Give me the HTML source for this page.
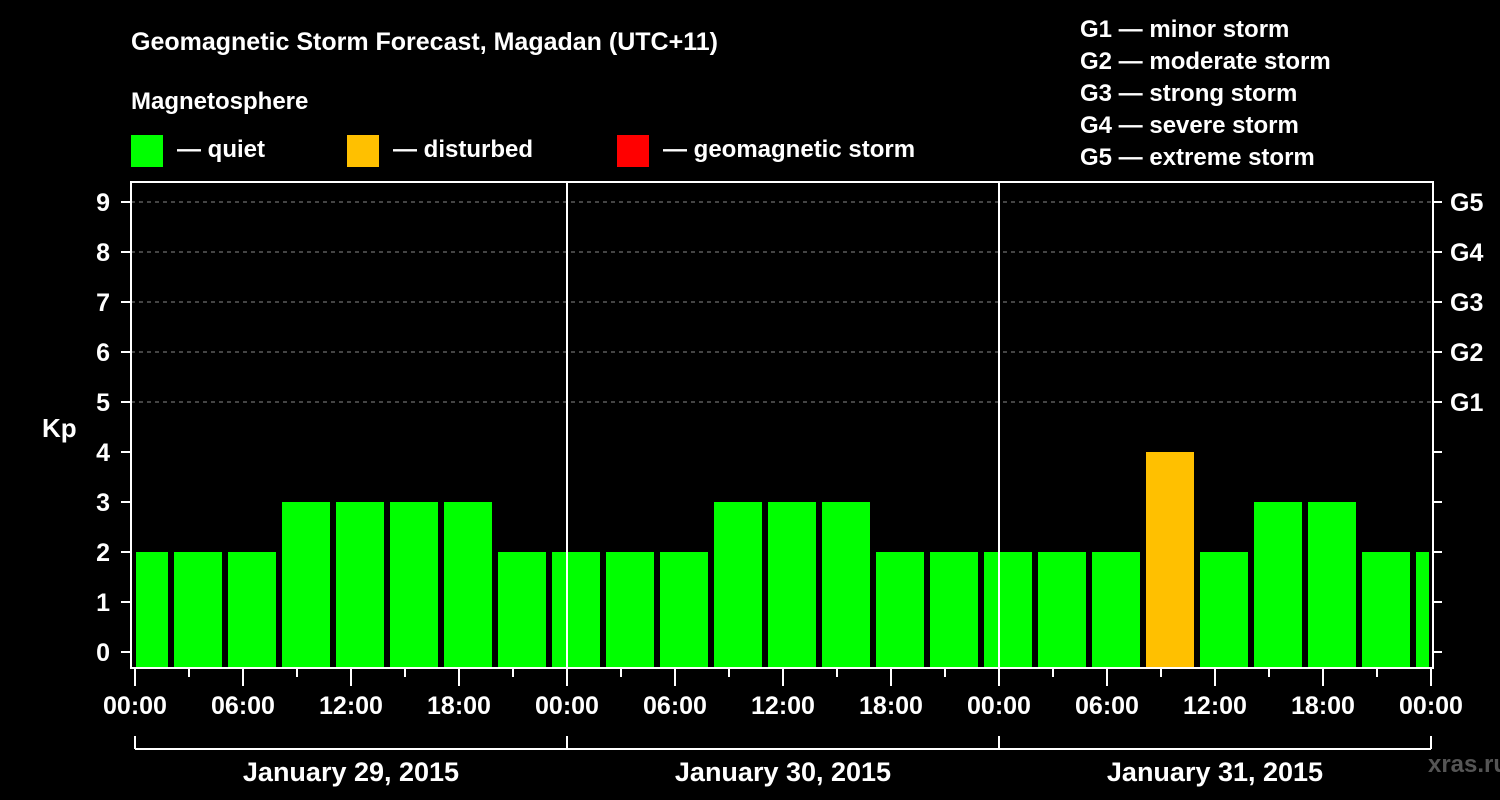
<!DOCTYPE html>
<html><head><meta charset="utf-8"><style>
body{margin:0;background:#000;}
svg{display:block;font-family:"Liberation Sans",Arial,sans-serif;font-weight:bold;}
</style></head><body>
<svg id="c" width="1500" height="800" viewBox="0 0 1500 800">
<rect width="1500" height="800" fill="#000"/>
<text x="131" y="50" fill="#fff" font-size="25">Geomagnetic Storm Forecast, Magadan (UTC+11)</text>
<text x="131" y="109" fill="#fff" font-size="24">Magnetosphere</text>
<g><rect x="131" y="135" width="32" height="32" fill="#00ff00"/><text x="177" y="157" fill="#fff" font-size="24">— quiet</text></g>
<g><rect x="347" y="135" width="32" height="32" fill="#ffc000"/><text x="393" y="157" fill="#fff" font-size="24">— disturbed</text></g>
<g><rect x="617" y="135" width="32" height="32" fill="#ff0000"/><text x="663" y="157" fill="#fff" font-size="24">— geomagnetic storm</text></g>
<g fill="#fff" font-size="24">
<text x="1080" y="37">G1 — minor storm</text>
<text x="1080" y="69">G2 — moderate storm</text>
<text x="1080" y="101">G3 — strong storm</text>
<text x="1080" y="133">G4 — severe storm</text>
<text x="1080" y="165">G5 — extreme storm</text>
</g>
<text x="42" y="437" fill="#fff" font-size="26">Kp</text>
<text x="1468" y="772" fill="#555" font-size="24" text-anchor="middle">xras.ru</text>
<g id="plot"></g>
</svg>
<script>
const kpValues=[2,2,2,3,3,3,3,2,2,2,2,3,3,3,2,2,2,2,2,4,2,3,3,2,2];
const startHours=[-1,2,5,8,11,14,17,20,23,26,29,32,35,38,41,44,47,50,53,56,59,62,65,68,71];
const dayLabels=["January 29, 2015","January 30, 2015","January 31, 2015"];
const yTicks=[0,1,2,3,4,5,6,7,8,9];
const gLabels=["G1","G2","G3","G4","G5"];
const xTickLabels=["00:00","06:00","12:00","18:00","00:00","06:00","12:00","18:00","00:00","06:00","12:00","18:00","00:00"];

const NS="http://www.w3.org/2000/svg";
const g=document.getElementById('plot');
const L=131,R=1433,T=182,B=668;
const x=h=>135+h*18;
const y=v=>652-v*50;
function el(t,a){const e=document.createElementNS(NS,t);for(const k in a)e.setAttribute(k,a[k]);g.appendChild(e);return e;}
function color(v){return v>=5?'#ff0000':v>=4?'#ffc000':'#00ff00';}
// gridlines
for(let v=5;v<=9;v++){const l=el('line',{x1:L,x2:R,y1:y(v),y2:y(v),stroke:'#888','stroke-dasharray':'4,4','stroke-width':1});

}
// bars
kpValues.forEach((v,i)=>{
 let x0=x(startHours[i])+3, x1=x(startHours[i]+3)-3;
 x0=Math.max(x0,136); x1=Math.min(x1,1429);
 const r=el('rect',{x:x0,y:y(v),width:x1-x0,height:B-y(v),fill:color(v)});
 
 
});
// day separators
[1,2].forEach(d=>{const l=el('line',{x1:x(d*24),x2:x(d*24),y1:T,y2:B,stroke:'#fff','stroke-width':2});

});
// frame
const f=el('rect',{x:L,y:T,width:R-L,height:B-T,fill:'none',stroke:'#fff','stroke-width':2});


// y ticks
yTicks.forEach(v=>{
 el('line',{x1:121,x2:L,y1:y(v),y2:y(v),stroke:'#fff','stroke-width':2});
 el('line',{x1:R,x2:1442,y1:y(v),y2:y(v),stroke:'#fff','stroke-width':2});
 const t=el('text',{x:110,y:y(v)+9,fill:'#fff','font-size':25,'text-anchor':'end'});t.textContent=v;
 
 
});
gLabels.forEach((s,i)=>{const t=el('text',{x:1450,y:y(5+i)+9,fill:'#fff','font-size':25});t.textContent=s;
 
 });
// x ticks
for(let h=0;h<=72;h+=3){const maj=h%6===0;el('line',{x1:x(h),x2:x(h),y1:B,y2:maj?686:677,stroke:'#fff','stroke-width':2});}
xTickLabels.forEach((s,i)=>{const t=el('text',{x:x(i*6),y:714,fill:'#fff','font-size':25,'text-anchor':'middle'});t.textContent=s;
 
 });
// day brackets
el('line',{x1:x(0),x2:x(72),y1:749,y2:749,stroke:'#fff','stroke-width':2});
for(let d=0;d<=3;d++)el('line',{x1:x(d*24),x2:x(d*24),y1:736,y2:749,stroke:'#fff','stroke-width':2});
dayLabels.forEach((s,i)=>{const t=el('text',{x:x(i*24+12),y:781,fill:'#fff','font-size':27,'text-anchor':'middle'});t.textContent=s;
 
 });
</script>
</body></html>
